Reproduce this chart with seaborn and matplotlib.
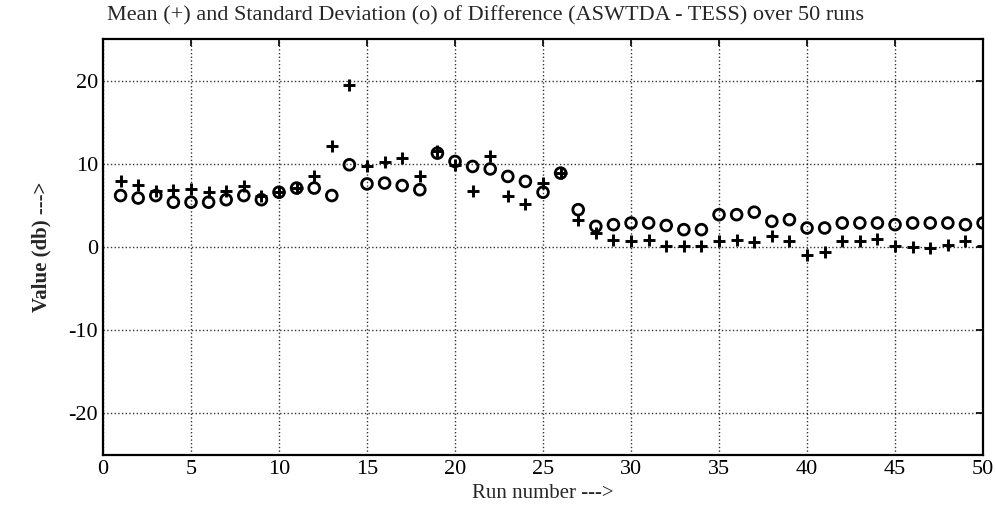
import numpy as np
import pandas as pd
import matplotlib
matplotlib.use('Agg')
import matplotlib.pyplot as plt
import seaborn as sns

# -------------------------------------------------------
# Data (50 runs)
# -------------------------------------------------------
runs = list(range(1, 51))
mean_diff = [8.0, 7.5, 6.8, 6.9, 7.0, 6.6, 6.7, 7.3, 6.1, 6.6,
             7.1, 8.6, 12.1, 19.5, 9.7, 10.2, 10.7, 8.5, 11.6, 9.9,
             6.8, 10.9, 6.2, 5.2, 7.7, 8.9, 3.3, 1.7, 0.9, 0.75,
             0.9, 0.1, 0.15, 0.1, 0.75, 0.9, 0.6, 1.3, 0.75, -1.0,
             -0.6, 0.75, 0.75, 1.0, 0.15, 0.0, -0.1, 0.3, 0.7, 0.15]
std_diff = [6.2, 5.9, 6.2, 5.4, 5.4, 5.4, 5.7, 6.2, 5.7, 6.6,
            7.1, 7.1, 6.2, 9.9, 7.6, 7.7, 7.4, 6.9, 11.3, 10.3,
            9.7, 9.4, 8.5, 7.9, 6.6, 8.9, 4.5, 2.5, 2.7, 2.9,
            2.9, 2.6, 2.1, 2.1, 3.9, 3.9, 4.2, 3.1, 3.3, 2.3,
            2.3, 2.9, 2.9, 2.9, 2.7, 2.9, 2.9, 2.9, 2.7, 2.9]

x_ticks = [0, 5, 10, 15, 20, 25, 30, 35, 40, 45, 50]
y_ticks = [-20, -10, 0, 10, 20]

df = pd.DataFrame({'run': runs, 'mean': mean_diff, 'std': std_diff})

# -------------------------------------------------------
# Plot
# -------------------------------------------------------
sns.set_style('white')
plt.rcParams['font.family'] = ['Liberation Serif', 'DejaVu Serif']
plt.rcParams['axes.unicode_minus'] = False

fig = plt.figure(figsize=(9.96, 5.30), dpi=100)
ax = fig.add_axes([0.1034, 0.1415, 0.8836, 0.7845])

sns.scatterplot(data=df, x='run', y='mean', marker='+', color='black',
                s=75, linewidth=2.1, ax=ax, zorder=3)
sns.scatterplot(data=df, x='run', y='std', marker='o', facecolors='none',
                edgecolor='black', s=60, linewidth=2.0, ax=ax, zorder=3)

ax.set_xlim(0, 50)
ax.set_ylim(-25, 25)
ax.set_xticks(x_ticks)
ax.set_yticks(y_ticks)
ax.tick_params(direction='in', top=True, right=True, length=5,
               labelsize=16, width=1.2, colors='black')
ax.grid(True, linestyle=':', color='black', linewidth=1.0, alpha=0.8)
for sp in ax.spines.values():
    sp.set_color('black')
    sp.set_linewidth(1.6)

ax.set_xlabel('Run number --->', fontsize=15, labelpad=4)
ax.set_ylabel('Value (db) --->', fontsize=15, fontweight='bold', labelpad=12)
fig.text(0.487, 0.970,
         'Mean (+) and Standard Deviation (o) of Difference (ASWTDA - TESS) over 50 runs',
         fontsize=16, ha='center', va='center')

plt.savefig('out.png', dpi=100)
plt.close()
